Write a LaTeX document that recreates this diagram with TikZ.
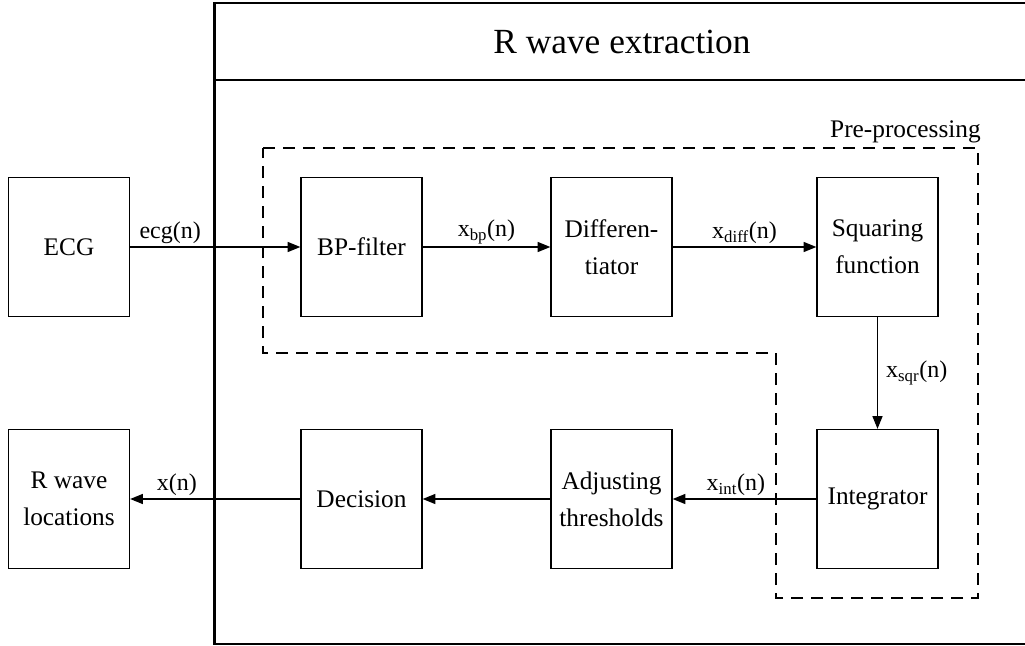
\documentclass[tikz,border=0pt]{standalone}
\usepackage{fontspec}
\setmainfont{Liberation Serif}
\usetikzlibrary{arrows.meta}

\tikzset{
  block/.style={draw, line width=1pt, minimum width=90.75pt, minimum height=104.25pt,
    inner sep=2pt, align=center, font=\fontsize{19}{27.5}\selectfont},
  flow/.style={line width=0.9pt, -{Triangle[length=9.5pt,width=7.5pt]}},
  lab/.style={font=\fontsize{18}{20}\selectfont, inner sep=2pt},
  frame/.style={line width=1.8pt},
  groupline/.style={line width=1pt, dash pattern=on 9pt off 6pt}
}

\begin{document}
\begin{tikzpicture}[x=0.75pt, y=-0.75pt]
  \clip (0,0) rectangle (1025,646);

  % outer block with its header
  \draw[frame] (214.5,3) rectangle (1040,644);
  \draw[frame] (214.5,80) -- (1040,80);
  \node[font=\fontsize{26.5}{30}\selectfont] (title) at (622,42) {R wave extraction};

  % pre-processing group
  \draw[groupline] (263,148) -- (978,148) -- (978,598) -- (776,598)
                   -- (776,353) -- (263,353) -- cycle;
  \node[font=\fontsize{19}{22}\selectfont, anchor=base east, inner sep=0pt]
    (pre) at (981,137) {Pre-processing};

  % processing blocks
  \node[block] (ecg) at (69,247) {ECG};
  \node[block] (bp)  at (361.5,247) {BP-filter};
  \node[block] (dif) at (611.5,247) {Differen-\\tiator};
  \node[block] (sq)  at (877.5,247) {Squaring\\function};
  \node[block] (int) at (877.5,499) {Integrator};
  \node[block] (adj) at (611.5,499) {Adjusting\\thresholds};
  \node[block] (dec) at (361.5,499) {Decision};
  \node[block] (rw)  at (69,499) {R wave\\locations};

  % signal flow
  \draw[flow] (ecg) -- node[lab, above, pos=0.235] {ecg(n)} (bp);
  \draw[flow] (bp) -- node[lab, above] {x\textsubscript{bp}(n)} (dif);
  \draw[flow] (dif) -- node[lab, above] {x\textsubscript{diff}(n)} (sq);
  \draw[flow] (sq) -- node[lab, right, inner sep=6pt] {x\textsubscript{sqr}(n)} (int);
  \draw[flow] (int) -- node[lab, above, pos=0.56] {x\textsubscript{int}(n)} (adj);
  \draw[flow] (adj) -- (dec);
  \draw[flow] (dec) -- node[lab, above, pos=0.725] {x(n)} (rw);
\end{tikzpicture}
\end{document}
